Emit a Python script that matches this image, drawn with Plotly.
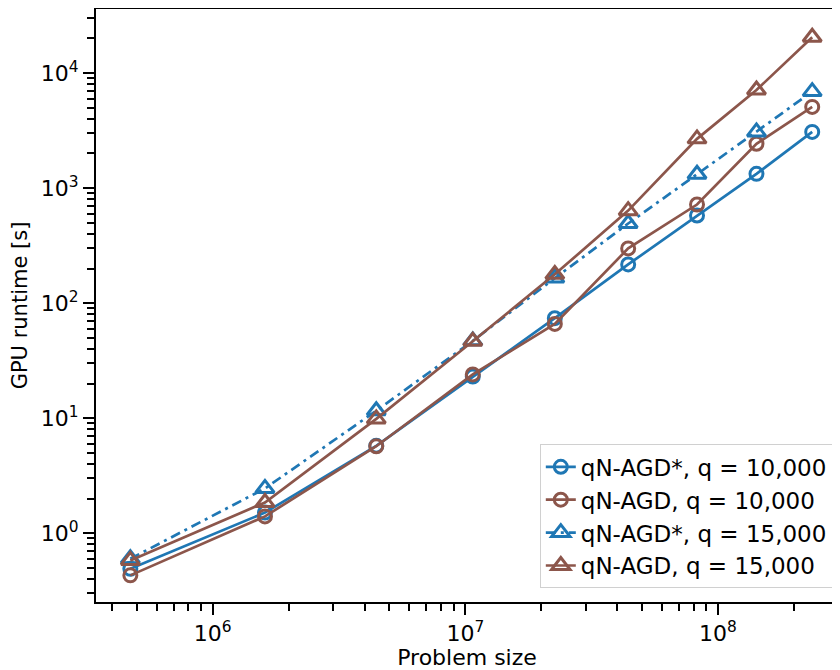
import plotly.graph_objects as go

# problem sizes (x) and GPU runtimes in seconds
problem_size = [4.72e5, 1.61e6, 4.44e6, 1.07e7, 2.26e7, 4.41e7, 8.26e7, 1.42e8, 2.36e8]

agd_star_10k = [0.49, 1.51, 5.75, 23.0, 74, 217, 578, 1330, 3080]
agd_10k = [0.43, 1.40, 5.7, 24.0, 66, 299, 720, 2430, 5080]
agd_star_15k = [0.60, 2.45, 11.6, 47, 165, 492, 1320, 3080, 6900]
agd_15k = [0.58, 1.85, 9.86, 46.6, 178, 637, 2680, 7130, 20500]

labels = ["qN-AGD*, q = 10,000", "qN-AGD, q = 10,000",
          "qN-AGD*, q = 15,000", "qN-AGD, q = 15,000"]

x_tickvals = [1e6, 1e7, 1e8]
x_ticktext = ["10<sup>6</sup>", "10<sup>7</sup>", "10<sup>8</sup>"]
y_tickvals = [1, 10, 100, 1000, 10000]
y_ticktext = ["10<sup>0</sup>", "10<sup>1</sup>", "10<sup>2</sup>", "10<sup>3</sup>", "10<sup>4</sup>"]

BLUE = "#1f77b4"
BROWN = "#8c564b"

series = [
    (agd_star_10k, labels[0], BLUE, "circle-open", "solid", 13),
    (agd_10k, labels[1], BROWN, "circle-open", "solid", 13),
    (agd_star_15k, labels[2], BLUE, "triangle-up-open", "10px,5px,3px,5px", 16),
    (agd_15k, labels[3], BROWN, "triangle-up-open", "solid", 16),
]

fig = go.Figure()
for ys, name, col, sym, dash, msize in series:
    fig.add_trace(go.Scatter(
        x=problem_size, y=ys, name=name, mode="lines+markers",
        line=dict(color=col, width=2.7, dash=dash),
        marker=dict(symbol=sym, size=msize, color=col, line=dict(color=col, width=3)),
    ))

axis_common = dict(
    type="log", showgrid=False, zeroline=False, automargin=False,
    showline=True, linecolor="black", linewidth=2, mirror=True,
    ticks="outside", ticklen=11, tickwidth=2, tickcolor="black",
    tickfont=dict(size=22, color="black"),
    minor=dict(ticks="outside", ticklen=7, tickwidth=1.5, tickcolor="black", dtick="D1", showgrid=False),
)

fig.update_xaxes(axis_common, range=[5.538, 8.475], tickvals=x_tickvals, ticktext=x_ticktext,
                 title=dict(text="Problem size", font=dict(size=22, color="black"), standoff=4))
fig.update_yaxes(axis_common, range=[-0.598, 4.557], tickvals=y_tickvals, ticktext=y_ticktext,
                 title=dict(text="GPU runtime [s]", font=dict(size=21, color="black"), standoff=10))

# page body adds an 8px offset, so the figure is a bit smaller than the window
fig.update_layout(
    width=832, height=662,
    margin=dict(l=88, r=2, t=1, b=68),
    plot_bgcolor="white", paper_bgcolor="white",
    font=dict(family="DejaVu Sans", color="black"),
    legend=dict(x=0.993, y=0.023, xanchor="right", yanchor="bottom",
                bgcolor="white", bordercolor="#d0d0d0", borderwidth=1,
                font=dict(size=23, color="black"), tracegroupgap=0),
)

fig.write_html("out.html")
